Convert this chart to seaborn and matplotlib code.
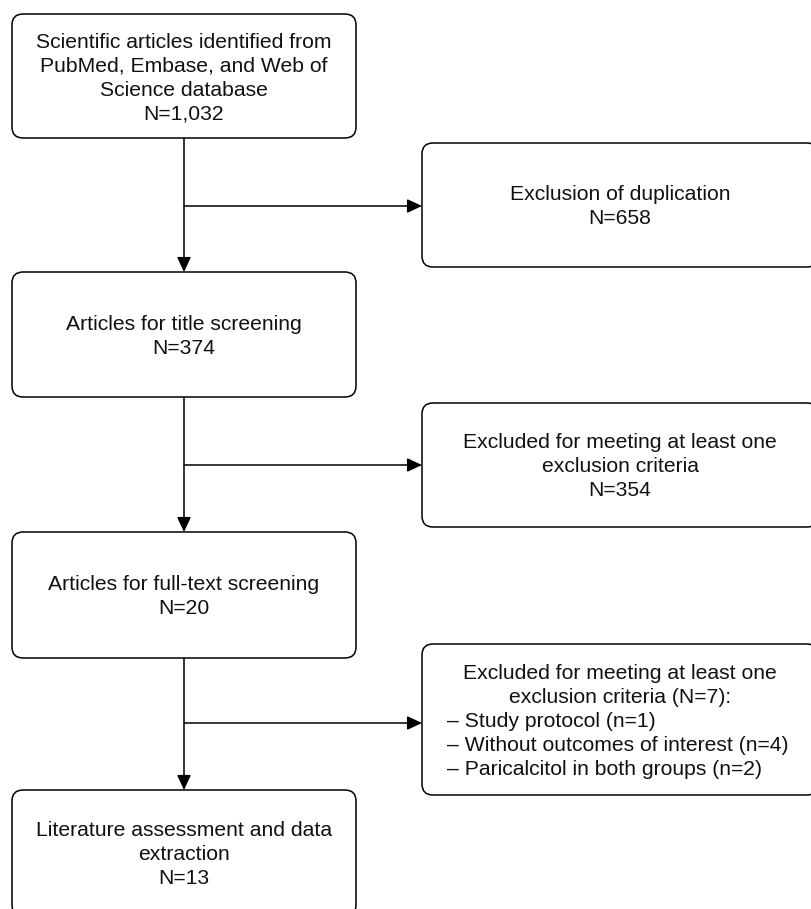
import matplotlib
matplotlib.use("Agg")
import matplotlib.pyplot as plt
from matplotlib.patches import FancyBboxPatch
import seaborn as sns

# Flow stages (left column) and the exclusions between them (right column)
stage_labels = [
    ["Scientific articles identified from", "PubMed, Embase, and Web of", "Science database"],
    ["Articles for title screening"],
    ["Articles for full-text screening"],
    ["Literature assessment and data", "extraction"],
]
stage_counts = ["1,032", "374", "20", "13"]

excl_labels = [
    ["Exclusion of duplication"],
    ["Excluded for meeting at least one", "exclusion criteria"],
    ["Excluded for meeting at least one", "exclusion criteria (N=7):"],
]
excl_counts = ["658", "354", None]
excl_reasons = ["Study protocol", "Without outcomes of interest", "Paricalcitol in both groups"]
excl_reason_n = [1, 4, 2]

sns.set_theme(style="white")
plt.rcParams["font.family"] = ["Liberation Sans", "DejaVu Sans"]

W, H = 811, 909
fig = plt.figure(figsize=(W / 100, H / 100), dpi=100)
ax = fig.add_axes([0, 0, 1, 1])
ax.set_xlim(0, W)
ax.set_ylim(H, 0)
ax.axis("off")

FS = 15.2
LH = 24
BASE = 7.5  # baseline sits this far below the cap-centre of a line
TXT = "#111111"


def box(x0, y0, x1, y1):
    p = FancyBboxPatch((x0, y0), x1 - x0, y1 - y0,
                       boxstyle="round,pad=0,rounding_size=11",
                       fc="white", ec="black", lw=1.1, zorder=2)
    ax.add_patch(p)


def put(x, y, s, ha="center"):
    ax.text(x, y + BASE, s, ha=ha, va="baseline",
            fontsize=FS, color=TXT, zorder=3)


def lines_centered(lines, cx, cy):
    top = cy - (len(lines) - 1) * LH / 2
    for i, s in enumerate(lines):
        put(cx, top + i * LH, s)


def arrow(x0, y0, x1, y1):
    ax.annotate("", xy=(x1, y1), xytext=(x0, y0),
                arrowprops=dict(arrowstyle="-|>,head_length=0.75,head_width=0.35",
                                color="black", lw=1.1, shrinkA=0, shrinkB=0),
                zorder=1)


# layout
LX0, LX1 = 12, 356
LCX = (LX0 + LX1) / 2
RX0, RX1 = 422, 818
RCX = (RX0 + RX1) / 2
left_y = [(14, 138), (272, 397), (532, 658), (790, 916)]
right_y = [(143, 267), (403, 527), (644, 795)]
branch_y = [206, 465, 723]

for (y0, y1), lab, n in zip(left_y, stage_labels, stage_counts):
    box(LX0, y0, LX1, y1)
    lines_centered(lab + [f"N={n}"], LCX, (y0 + y1) / 2)

for (y0, y1), lab, n in zip(right_y, excl_labels, excl_counts):
    box(RX0, y0, RX1, y1)
    if n is not None:
        lines_centered(lab + [f"N={n}"], RCX, (y0 + y1) / 2)
    else:
        rows = len(lab) + len(excl_reasons)
        top = (y0 + y1) / 2 - (rows - 1) * LH / 2
        for j, s in enumerate(lab):
            put(RCX, top + j * LH, s)
        for k, (r, c) in enumerate(zip(excl_reasons, excl_reason_n)):
            put(RX0 + 25, top + (len(lab) + k) * LH, f"\u2013 {r} (n={c})", ha="left")

# connectors
for i in range(3):
    arrow(LCX, left_y[i][1], LCX, left_y[i + 1][0])
    arrow(LCX, branch_y[i], RX0, branch_y[i])

fig.savefig("out.png", dpi=100, facecolor="white")
